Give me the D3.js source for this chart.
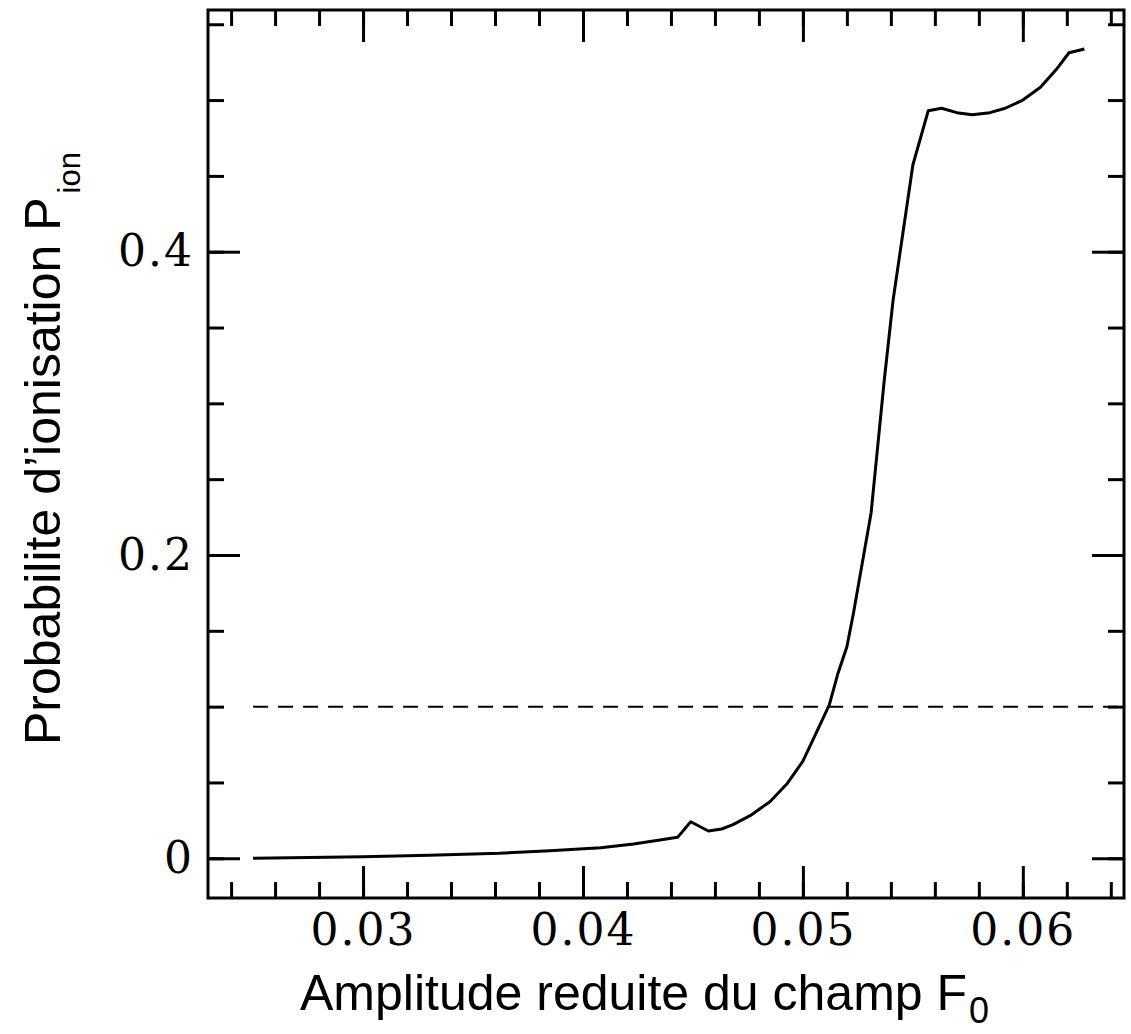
<!DOCTYPE html>
<html>
<head>
<meta charset="utf-8">
<script src="https://cdn.jsdelivr.net/npm/d3@7"></script>
<style>
  body { margin: 0; background: #fff; }
  svg { display: block; }
  .tick-label text { font-family: "DejaVu Serif", serif; font-size: 44px; letter-spacing: 2px; fill: #000; }
  .title { font-family: "Liberation Sans", Arial, sans-serif; font-size: 50px; fill: #000; }
</style>
</head>
<body>
<svg id="canvas"></svg>
<script>
"use strict";

// amplitude F0 and ionisation probability
const fieldValues = [
  0.025, 0.03, 0.033, 0.0362, 0.0385, 0.0408, 0.0423, 0.0435, 0.0443,
  0.0449, 0.0457, 0.0463, 0.0468, 0.0476, 0.0485, 0.0493, 0.05,
  0.0506, 0.0512, 0.0516, 0.052, 0.0523, 0.0527, 0.0531, 0.0534,
  0.0537, 0.0541, 0.055, 0.0557, 0.0563, 0.057, 0.0577, 0.0585,
  0.0592, 0.06, 0.0608, 0.0615, 0.0621, 0.0628
];
const ionValues = [
  0.0, 0.001, 0.002, 0.0033, 0.005, 0.007, 0.0094, 0.012, 0.0138,
  0.0241, 0.018, 0.0193, 0.022, 0.0281, 0.0373, 0.0495, 0.064,
  0.0826, 0.1011, 0.1222, 0.1395, 0.1618, 0.1947, 0.2277, 0.2714,
  0.3154, 0.368, 0.4572, 0.493, 0.4946, 0.4917, 0.4903, 0.4917,
  0.4946, 0.5, 0.5084, 0.5198, 0.5312, 0.5337
];
const threshold = 0.1;
const thresholdStart = 0.025;

const xMajorTicks = [0.03, 0.04, 0.05, 0.06];
const xTickLabels = ["0.03", "0.04", "0.05", "0.06"];
const xMinorTicks = d3.range(12, 33).map((i) => i * 0.002);
const yMajorTicks = [0, 0.2, 0.4];
const yTickLabels = ["0", "0.2", "0.4"];
const yMinorTicks = d3.range(0, 12).map((i) => i * 0.05);

const width = 1131;
const height = 1034;
const plotLeft = 208;
const plotRight = 1124;
const plotTop = 10;
const plotBottom = 898;

const canvas = d3.select("#canvas").attr("width", width).attr("height", height);

const xScale = d3.scaleLinear().domain([0.02295, 0.0646]).range([plotLeft, plotRight]);
const yScale = d3.scaleLinear().domain([-0.0262, 0.5594]).range([plotBottom, plotTop]);

const styleAxis = (g) => {
  g.select(".domain").remove();
  g.selectAll("line").attr("stroke", "#000").attr("stroke-width", 3);
};

// minor ticks on all four sides
const minorAxes = [
  [d3.axisBottom(xScale).tickValues(xMinorTicks), `translate(0,${plotBottom})`],
  [d3.axisTop(xScale).tickValues(xMinorTicks), `translate(0,${plotTop})`],
  [d3.axisLeft(yScale).tickValues(yMinorTicks), `translate(${plotLeft},0)`],
  [d3.axisRight(yScale).tickValues(yMinorTicks), `translate(${plotRight},0)`]
];
minorAxes.forEach(([axis, t]) => {
  canvas.append("g").attr("transform", t)
    .call(axis.tickSize(-16).tickFormat(""))
    .call(styleAxis);
});

// major ticks, labelled on bottom and left
canvas.append("g").attr("class", "tick-label")
  .attr("transform", `translate(0,${plotBottom})`)
  .call(d3.axisBottom(xScale).tickValues(xMajorTicks).tickSize(-32).tickPadding(16)
    .tickFormat((d, i) => xTickLabels[i]))
  .call(styleAxis);
canvas.append("g")
  .attr("transform", `translate(0,${plotTop})`)
  .call(d3.axisTop(xScale).tickValues(xMajorTicks).tickSize(-32).tickFormat(""))
  .call(styleAxis);
canvas.append("g").attr("class", "tick-label")
  .attr("transform", `translate(${plotLeft},0)`)
  .call(d3.axisLeft(yScale).tickValues(yMajorTicks).tickSize(-32).tickPadding(14)
    .tickFormat((d, i) => yTickLabels[i]))
  .call(styleAxis);
canvas.append("g")
  .attr("transform", `translate(${plotRight},0)`)
  .call(d3.axisRight(yScale).tickValues(yMajorTicks).tickSize(-32).tickFormat(""))
  .call(styleAxis);

canvas.selectAll(".tick-label").attr("font-family", null).attr("font-size", null);

// frame
canvas.append("rect")
  .attr("x", plotLeft).attr("y", plotTop)
  .attr("width", plotRight - plotLeft).attr("height", plotBottom - plotTop)
  .attr("fill", "none").attr("stroke", "#000").attr("stroke-width", 3);

// dashed threshold
canvas.append("line")
  .attr("x1", xScale(thresholdStart)).attr("x2", plotRight)
  .attr("y1", yScale(threshold)).attr("y2", yScale(threshold))
  .attr("stroke", "#000").attr("stroke-width", 2)
  .attr("stroke-dasharray", "15,10");

// curve
const line = d3.line()
  .x((d) => xScale(d[0]))
  .y((d) => yScale(d[1]));
canvas.append("path")
  .datum(fieldValues.map((f, i) => [f, ionValues[i]]))
  .attr("d", line)
  .attr("fill", "none")
  .attr("stroke", "#000")
  .attr("stroke-width", 3)
  .attr("stroke-linejoin", "round");

// axis titles
const xTitle = canvas.append("text").attr("class", "title")
  .attr("x", 300).attr("y", 1010);
xTitle.append("tspan").text("Amplitude reduite du champ F");
xTitle.append("tspan").attr("dy", 13).attr("dx", 2).attr("font-size", 36).text("0");

const yTitle = canvas.append("text").attr("class", "title")
  .attr("transform", "translate(60,745) rotate(-90)");
yTitle.append("tspan").text("Probabilite d\u2019ionisation P");
yTitle.append("tspan").attr("dy", 20).attr("dx", 4).attr("font-size", 31).text("ion");
</script>
</body>
</html>
